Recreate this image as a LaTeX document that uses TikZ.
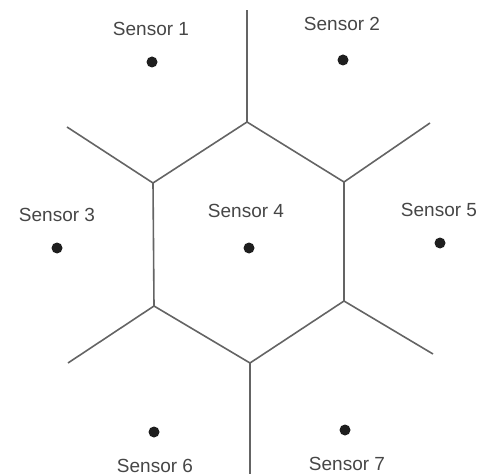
\documentclass[tikz,border=0pt]{standalone}
\usepackage{fontspec}
\setmainfont{Liberation Sans}
\definecolor{edgegray}{RGB}{100,100,100}
\definecolor{dotdark}{RGB}{30,30,30}
\definecolor{textgray}{RGB}{70,70,70}
\begin{document}
\begin{tikzpicture}[x=1pt,y=-1pt,
  edge/.style={draw=edgegray,line width=1.6pt},
  sensordot/.style={circle,fill=dotdark,inner sep=0pt,minimum size=11pt},
  lbl/.style={text=textgray,font=\fontsize{19}{19}\selectfont,inner sep=0pt,anchor=center}]
\useasboundingbox (0,0) rectangle (477,476);
% hexagon vertices
\coordinate (vt) at (247,122);
\coordinate (vur) at (344,182);
\coordinate (vlr) at (344,301);
\coordinate (vb) at (250,363);
\coordinate (vll) at (154,306);
\coordinate (vul) at (153,183);
% outer ends
\coordinate (et) at (247,10);
\coordinate (eur) at (430,123);
\coordinate (elr) at (433,354);
\coordinate (eb) at (250,474);
\coordinate (ell) at (68,363);
\coordinate (eul) at (67,127);
\draw[edge] (vt) -- (vur) -- (vlr) -- (vb) -- (vll) -- (vul) -- cycle;
\draw[edge] (vt) -- (et);
\draw[edge] (vur) -- (eur);
\draw[edge] (vlr) -- (elr);
\draw[edge] (vb) -- (eb);
\draw[edge] (vll) -- (ell);
\draw[edge] (vul) -- (eul);
% sensors
\node[sensordot] (s1) at (152,62) {};
\node[sensordot] (s2) at (343,60) {};
\node[sensordot] (s3) at (57,248) {};
\node[sensordot] (s4) at (249,248) {};
\node[sensordot] (s5) at (440,243) {};
\node[sensordot] (s6) at (154,432) {};
\node[sensordot] (s7) at (345,430) {};
\node[lbl] (l1) at (151,29) {Sensor 1};
\node[lbl] (l2) at (342,24) {Sensor 2};
\node[lbl] (l3) at (57,215) {Sensor 3};
\node[lbl] (l4) at (246,211) {Sensor 4};
\node[lbl] (l5) at (439,210) {Sensor 5};
\node[lbl] (l6) at (155,466) {Sensor 6};
\node[lbl] (l7) at (347,464) {Sensor 7};
\end{tikzpicture}
\end{document}
